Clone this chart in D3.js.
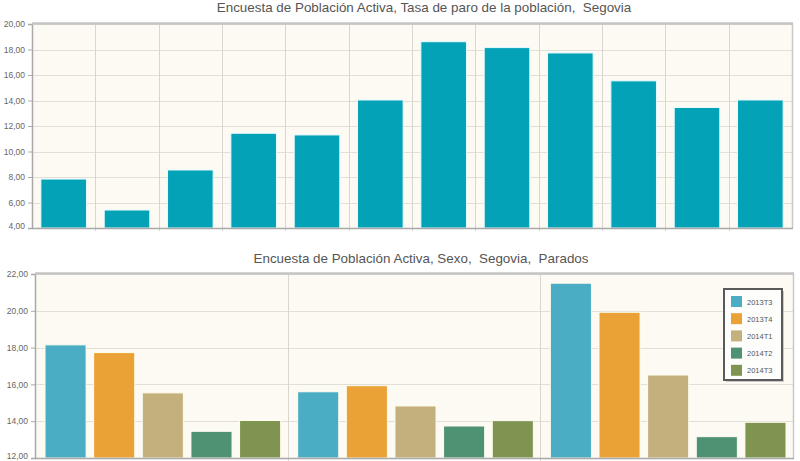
<!DOCTYPE html>
<html>
<head>
<meta charset="utf-8">
<script src="https://cdn.jsdelivr.net/npm/d3@7"></script>
<style>
  html, body { margin: 0; padding: 0; background: #ffffff; }
  svg { display: block; font-family: "Liberation Sans", Arial, sans-serif; }
</style>
</head>
<body>
<svg id="chart" width="800" height="461"></svg>
<script>
// ---- Data ----
const topTitle = "Encuesta de Población Activa, Tasa de paro de la población,  Segovia";
const topCategories = ["2006", "2007", "2008", "2009", "2010", "2011", "2012", "2013T3", "2013T4", "2014T1", "2014T2", "2014T3"];
const topValues = [7.84, 5.41, 8.55, 11.43, 11.30, 14.04, 18.61, 18.15, 17.73, 15.54, 13.45, 14.04];
const topTicks = [4, 6, 8, 10, 12, 14, 16, 18, 20];

const bottomTitle = "Encuesta de Población Activa, Sexo,  Segovia,  Parados";
const bottomGroups = ["Ambos sexos", "Hombres", "Mujeres"];
const bottomSeries = ["2013T3", "2013T4", "2014T1", "2014T2", "2014T3"];
const ambosValues = [18.15, 17.73, 15.54, 13.45, 14.04];
const hombresValues = [15.60, 15.93, 14.83, 13.74, 14.03];
const mujeresValues = [21.50, 19.92, 16.51, 13.16, 13.94];
const seriesColors = ["#4aadc4", "#eaa237", "#c4b07c", "#4f9273", "#7f9451"];
const bottomTicks = [12, 14, 16, 18, 20, 22];

// ---- Helpers ----
const loc = d3.formatLocale({decimal: ",", thousands: ".", grouping: [3], currency: ["", "€"]});
const fmt = loc.format(".2f");
const svg = d3.select("#chart");
const plotBg = "#fcfaf2";
const gridColor = "#e2dfd6";
const vGridColor = "#d9d6cf";
const axisColor = "#a9a9a9";
const textColor = "#666";

function drawFrame(g, x0, x1, y0, y1, yScale, ticks, vlines) {
  g.append("rect").attr("x", x0).attr("y", y0).attr("width", x1 - x0).attr("height", y1 - y0).attr("fill", plotBg);
  g.append("g").selectAll("line").data(ticks).join("line")
    .attr("x1", x0).attr("x2", x1)
    .attr("y1", d => Math.round(yScale(d)) + 0.5).attr("y2", d => Math.round(yScale(d)) + 0.5)
    .attr("stroke", gridColor).attr("stroke-width", 1);
  g.append("g").selectAll("line").data(vlines).join("line")
    .attr("x1", d => Math.round(d) + 0.5).attr("x2", d => Math.round(d) + 0.5)
    .attr("y1", y0).attr("y2", y1 + 3)
    .attr("stroke", vGridColor).attr("stroke-width", 1);
  const ax = d3.axisLeft(yScale).tickValues(ticks).tickFormat(fmt).tickSize(4).tickPadding(3);
  const axg = g.append("g").attr("transform", `translate(${x0},0)`).call(ax);
  axg.select(".domain").attr("stroke", axisColor).attr("stroke-width", 1.5);
  axg.selectAll(".tick line").attr("stroke", axisColor);
  axg.selectAll(".tick text").attr("fill", textColor).attr("font-size", 8.5)
    .attr("font-family", "Liberation Sans, Arial, sans-serif")
    .attr("dy", d => (d === ticks[0] ? "0.1em" : "0.32em"));
}

function drawBorders(g, x0, x1, y0, y1) {
  g.append("line").attr("x1", x0).attr("x2", x1 + 1).attr("y1", y0 - 0.5).attr("y2", y0 - 0.5)
    .attr("stroke", "#c4c4c4").attr("stroke-width", 2.5);
  g.append("line").attr("x1", x1 + 0.5).attr("x2", x1 + 0.5).attr("y1", y0).attr("y2", y1)
    .attr("stroke", "#c9c9c9").attr("stroke-width", 1.5);
  g.append("line").attr("x1", x0).attr("x2", x1 + 1).attr("y1", y1 + 0.5).attr("y2", y1 + 0.5)
    .attr("stroke", axisColor).attr("stroke-width", 1.5);
}

// ---- Top chart ----
{
  const x0 = 32, x1 = 792, y0 = 24, y1 = 228;
  const g = svg.append("g");
  const y = d3.scaleLinear().domain([4, 20]).range([y1, y0]);
  const x = d3.scaleBand().domain(topCategories).range([x0, x1]).paddingInner(0.28).paddingOuter(0.14);
  const step = x.step();
  const vlines = topCategories.map((c, i) => x0 + i * step).slice(1);
  drawFrame(g, x0, x1, y0, y1, y, topTicks, vlines);
  g.append("g").selectAll("rect").data(topValues).join("rect")
    .attr("x", (d, i) => x(topCategories[i]))
    .attr("width", x.bandwidth())
    .attr("y", d => y(d))
    .attr("height", d => y1 - y(d))
    .attr("fill", "#03a2b7")
    .attr("stroke", "#e8fbff").attr("stroke-width", 1);
  drawBorders(g, x0, x1, y0, y1);
  svg.append("text").attr("x", 424).attr("y", 12).attr("text-anchor", "middle")
    .attr("xml:space", "preserve").style("white-space", "pre")
    .attr("font-size", 13.4).attr("fill", "#555").text(topTitle);
}

// ---- Bottom chart ----
{
  const x0 = 35, x1 = 793, y0 = 274, y1 = 458;
  const g = svg.append("g");
  const y = d3.scaleLinear().domain([12, 22]).range([y1, y0]);
  const gx = d3.scaleBand().domain(bottomGroups).range([x0, x1]);
  const sx = d3.scaleBand().domain(bottomSeries).range([10, gx.bandwidth() - 7]).paddingInner(0.155);
  const vlines = bottomGroups.map(d => gx(d)).slice(1);
  drawFrame(g, x0, x1, y0, y1, y, bottomTicks, vlines);
  const groupVals = [ambosValues, hombresValues, mujeresValues];
  const rows = [];
  bottomGroups.forEach((grp, gi) => bottomSeries.forEach((s, si) => rows.push({grp, s, si, v: groupVals[gi][si]})));
  g.append("g").selectAll("rect").data(rows).join("rect")
    .attr("x", d => gx(d.grp) + sx(d.s))
    .attr("width", sx.bandwidth())
    .attr("y", d => y(d.v))
    .attr("height", d => y1 - y(d.v))
    .attr("fill", d => seriesColors[d.si])
    .attr("stroke", "#fffdf0").attr("stroke-width", 1);
  drawBorders(g, x0, x1, y0, y1);
  svg.append("text").attr("x", 421).attr("y", 263).attr("text-anchor", "middle")
    .attr("xml:space", "preserve").style("white-space", "pre")
    .attr("font-size", 13.4).attr("fill", "#555").text(bottomTitle);

  // legend
  const lx = 724, ly = 289, lw = 58, lh = 91;
  const lg = svg.append("g");
  lg.append("rect").attr("x", lx + 2).attr("y", ly + 2).attr("width", lw).attr("height", lh)
    .attr("fill", "#9a9a9a").attr("opacity", 0.5);
  lg.append("rect").attr("x", lx).attr("y", ly).attr("width", lw).attr("height", lh)
    .attr("fill", "#fdfdfb").attr("stroke", "#5a5a5a").attr("stroke-width", 2);
  const items = lg.selectAll("g.item").data(bottomSeries).join("g").attr("class", "item")
    .attr("transform", (d, i) => `translate(${lx + 7},${ly + 7 + i * 17.2})`);
  items.append("rect").attr("width", 11).attr("height", 11).attr("fill", (d, i) => seriesColors[i]);
  items.append("text").attr("x", 16).attr("y", 8.5).attr("font-size", 7.5).attr("fill", "#555").text(d => d);
}
</script>
</body>
</html>
